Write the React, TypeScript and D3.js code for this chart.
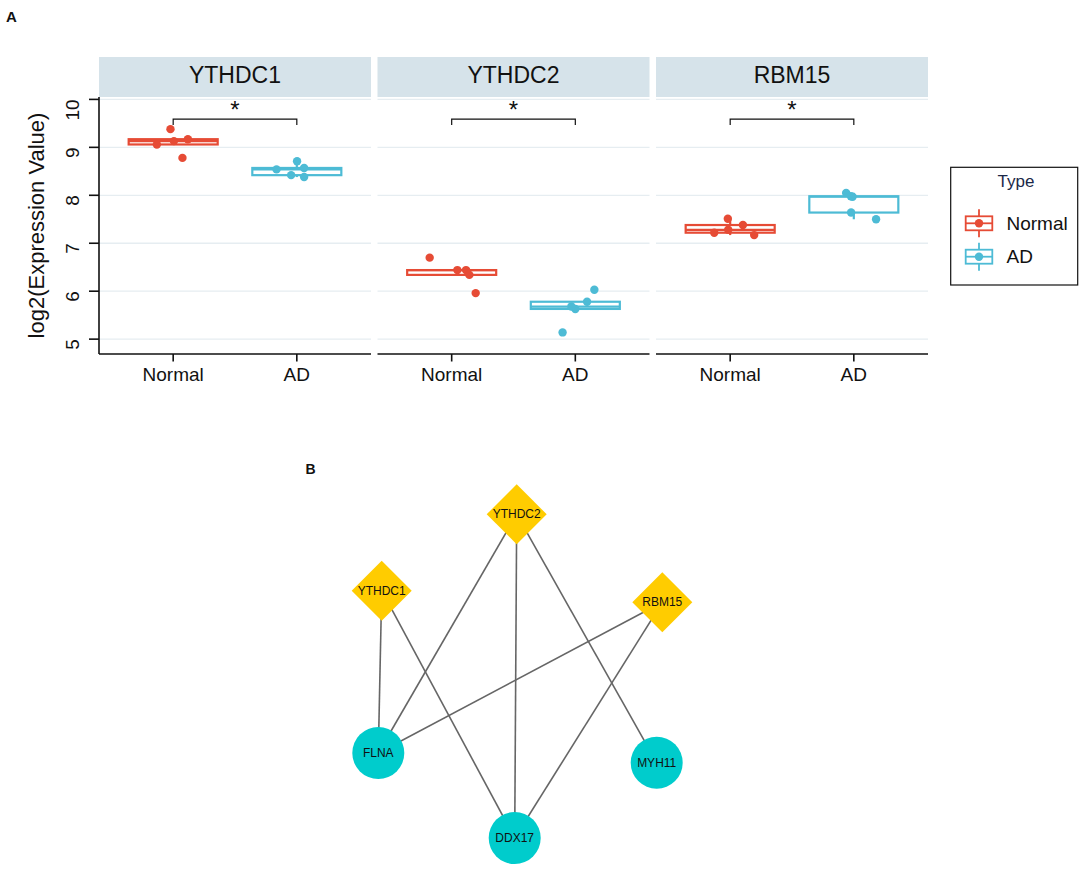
import React from "react";
import * as d3 from "d3";

// ---------- Panel A data ----------
const facets = ["YTHDC1", "YTHDC2", "RBM15"];
const groups = ["Normal", "AD"];
const groupColors = ["#E64B35", "#4DBBD5"];
const yTicks = [5, 6, 7, 8, 9, 10];

const ythdc1Normal = [9.38, 9.06, 9.13, 9.17, 8.78];
const ythdc1NormalJitter = [-0.022, -0.132, 0.006, 0.119, 0.075];
const ythdc1AD = [8.54, 8.71, 8.57, 8.42, 8.38];
const ythdc1ADJitter = [-0.164, 0.002, 0.059, -0.046, 0.059];

const ythdc2Normal = [6.7, 6.44, 6.44, 6.34, 5.96];
const ythdc2NormalJitter = [-0.178, 0.046, 0.116, 0.143, 0.194];
const ythdc2AD = [6.03, 5.78, 5.63, 5.68, 5.14];
const ythdc2ADJitter = [0.154, 0.095, 0.0, -0.032, -0.103];

const rbm15Normal = [7.51, 7.38, 7.22, 7.17, 7.28];
const rbm15NormalJitter = [-0.019, 0.103, -0.129, 0.194, -0.016];
const rbm15AD = [8.05, 7.98, 7.64, 7.5, 7.97];
const rbm15ADJitter = [-0.062, -0.024, -0.022, 0.18, -0.01];

const seriesValues = [
  [ythdc1Normal, ythdc1AD],
  [ythdc2Normal, ythdc2AD],
  [rbm15Normal, rbm15AD],
];
const seriesJitter = [
  [ythdc1NormalJitter, ythdc1ADJitter],
  [ythdc2NormalJitter, ythdc2ADJitter],
  [rbm15NormalJitter, rbm15ADJitter],
];
const sigLabels = ["*", "*", "*"];
const bracketY = 9.59;
const bracketTip = 0.125;

// ---------- Panel B data ----------
const netNodes = [
  { id: "YTHDC2", kind: "m6A", x: 138.4, y: 0 },
  { id: "YTHDC1", kind: "m6A", x: 3.4, y: 76.4 },
  { id: "RBM15", kind: "m6A", x: 284, y: 88 },
  { id: "FLNA", kind: "target", x: 0, y: 238.7 },
  { id: "DDX17", kind: "target", x: 136.4, y: 323.7 },
  { id: "MYH11", kind: "target", x: 278.4, y: 248.4 },
];
const netEdges = [
  ["YTHDC1", "FLNA"],
  ["YTHDC1", "DDX17"],
  ["YTHDC2", "FLNA"],
  ["YTHDC2", "DDX17"],
  ["YTHDC2", "MYH11"],
  ["RBM15", "FLNA"],
  ["RBM15", "DDX17"],
];

const FONT = "'Liberation Sans', Arial, Helvetica, sans-serif";

function boxStats(vals: number[]) {
  const s = [...vals].sort(d3.ascending);
  const q1 = d3.quantile(s, 0.25)!;
  const med = d3.quantile(s, 0.5)!;
  const q3 = d3.quantile(s, 0.75)!;
  const iqr = q3 - q1;
  const lo = d3.min(s.filter((v) => v >= q1 - 1.5 * iqr))!;
  const hi = d3.max(s.filter((v) => v <= q3 + 1.5 * iqr))!;
  return { q1, med, q3, lo, hi };
}

export default function App() {
  const W = 1084;
  const H = 869;

  // Panel A layout
  const plotLeft = 99;
  const plotRight = 928;
  const gap = 6.5;
  const facetW = (plotRight - plotLeft - gap * 2) / 3;
  const stripTop = 57;
  const stripBottom = 97;
  const panelTop = 97;
  const panelBottom = 354;
  const boxStroke = 2.2;

  const y = d3.scaleLinear().domain([4.69, 10.05]).range([panelBottom, panelTop]);
  const facetX = d3
    .scaleBand<string>()
    .domain(facets)
    .range([plotLeft, plotRight])
    .paddingInner(gap / (facetW + gap))
    .paddingOuter(0);
  const xIn = d3.scaleLinear().domain([0.4, 2.6]).range([0, facetX.bandwidth()]);
  const boxWidth = 0.72;

  // Panel B layout
  const nx = d3.scaleLinear().domain([0, 284]).range([378.3, 662.3]);
  const ny = d3.scaleLinear().domain([0, 323.7]).range([514.3, 838]);
  const nodeById = new Map(netNodes.map((n) => [n.id, n]));
  const diamondHalf = 30;
  const circleR = 26;

  return (
    <svg
      width={W}
      height={H}
      viewBox={`0 0 ${W} ${H}`}
      style={{ position: "absolute", left: 0, top: 0, background: "#fff" }}
      fontFamily={FONT}
    >
      <rect x={0} y={0} width={W} height={H} fill="#fff" />
      <text x={6} y={22} fontSize={15} fontWeight="bold" fill="#111">
        A
      </text>

      {/* Y-axis title */}
      <text
        transform={`translate(44,${(panelTop + panelBottom) / 2}) rotate(-90)`}
        textAnchor="middle"
        fontSize={22}
        fill="#111"
      >
        log2(Expression Value)
      </text>

      {facets.map((f, fi) => {
        const x0 = facetX(f)!;
        const fw = facetX.bandwidth();
        const gx = (g: number) => x0 + xIn(g + 1);
        return (
          <g key={f}>
            {/* strip */}
            <rect x={x0} y={stripTop} width={fw} height={stripBottom - stripTop} fill="#d6e3ea" />
            <text x={x0 + fw / 2} y={82.5} textAnchor="middle" fontSize={23} fill="#111">
              {f}
            </text>
            {/* grid */}
            {yTicks.map((t) => (
              <line key={t} x1={x0} x2={x0 + fw} y1={y(t)} y2={y(t)} stroke="#e6edf1" strokeWidth={1.3} />
            ))}
            {/* boxes */}
            {groups.map((g, gi) => {
              const st = boxStats(seriesValues[fi][gi]);
              const cx = gx(gi);
              const half = (xIn(1 + boxWidth / 2) - xIn(1 - boxWidth / 2)) / 2;
              const col = groupColors[gi];
              return (
                <g key={g}>
                  <line x1={cx} x2={cx} y1={y(st.q3)} y2={y(st.hi)} stroke={col} strokeWidth={boxStroke} />
                  <line x1={cx} x2={cx} y1={y(st.q1)} y2={y(st.lo)} stroke={col} strokeWidth={boxStroke} />
                  <rect
                    x={cx - half}
                    y={y(st.q3)}
                    width={half * 2}
                    height={Math.max(0.1, y(st.q1) - y(st.q3))}
                    fill="#fff"
                    stroke={col}
                    strokeWidth={boxStroke}
                  />
                  <line x1={cx - half} x2={cx + half} y1={y(st.med)} y2={y(st.med)} stroke={col} strokeWidth={boxStroke} />
                </g>
              );
            })}
            {/* jittered points */}
            {groups.map((g, gi) =>
              seriesValues[fi][gi].map((v, i) => (
                <circle
                  key={`${g}-${i}`}
                  cx={x0 + xIn(gi + 1 + seriesJitter[fi][gi][i])}
                  cy={y(v)}
                  r={4.2}
                  fill={groupColors[gi]}
                />
              ))
            )}
            {/* significance bracket */}
            <path
              d={`M${gx(0)},${y(bracketY - bracketTip)}V${y(bracketY)}H${gx(1)}V${y(bracketY - bracketTip)}`}
              fill="none"
              stroke="#111"
              strokeWidth={1.2}
            />
            <text x={(gx(0) + gx(1)) / 2} y={y(bracketY) - 1} textAnchor="middle" fontSize={24} fill="#111">
              {sigLabels[fi]}
            </text>
            {/* x axis */}
            <line x1={x0} x2={x0 + fw} y1={panelBottom} y2={panelBottom} stroke="#111" strokeWidth={1.6} />
            {groups.map((g, gi) => (
              <g key={g}>
                <line x1={gx(gi)} x2={gx(gi)} y1={panelBottom} y2={panelBottom + 7.5} stroke="#111" strokeWidth={1.6} />
                <text x={gx(gi)} y={381} textAnchor="middle" fontSize={19} fill="#111">
                  {g}
                </text>
              </g>
            ))}
          </g>
        );
      })}

      {/* y axis on first facet */}
      <line x1={plotLeft} x2={plotLeft} y1={panelTop} y2={panelBottom} stroke="#111" strokeWidth={1.6} />
      {yTicks.map((t) => (
        <g key={t}>
          <line x1={plotLeft - 10} x2={plotLeft} y1={y(t)} y2={y(t)} stroke="#111" strokeWidth={1.6} />
          <text
            transform={`translate(78.5,${y(t)}) rotate(-90)`}
            textAnchor="end"
            fontSize={19}
            fill="#111"
          >
            {t}
          </text>
        </g>
      ))}

      {/* legend */}
      <g>
        <rect x={950.7} y={167.3} width={127} height={117.7} fill="#fff" stroke="#111" strokeWidth={1.2} />
        <text x={1016} y={187} textAnchor="middle" fontSize={17} fill="#1b2848">
          Type
        </text>
        {groups.map((g, gi) => {
          const cy = 223.3 + gi * 33.4;
          const col = groupColors[gi];
          return (
            <g key={g}>
              <line x1={979} x2={979} y1={cy - 14} y2={cy + 14} stroke={col} strokeWidth={1.8} />
              <rect x={965.7} y={cy - 7} width={26.6} height={14} fill="#fff" stroke={col} strokeWidth={1.8} />
              <line x1={965.7} x2={992.3} y1={cy} y2={cy} stroke={col} strokeWidth={1.8} />
              <circle cx={979} cy={cy} r={4.2} fill={col} />
              <text x={1006.5} y={cy + 6.7} fontSize={19} fill="#111">
                {g}
              </text>
            </g>
          );
        })}
      </g>

      {/* Panel B */}
      <text x={305.5} y={474} fontSize={14} fontWeight="bold" fill="#111">
        B
      </text>
      {netEdges.map(([a, b], i) => {
        const na = nodeById.get(a)!;
        const nb = nodeById.get(b)!;
        return (
          <line key={i} x1={nx(na.x)} y1={ny(na.y)} x2={nx(nb.x)} y2={ny(nb.y)} stroke="#666" strokeWidth={1.6} />
        );
      })}
      {netNodes.map((n) => {
        const cx = nx(n.x);
        const cy = ny(n.y);
        return (
          <g key={n.id}>
            {n.kind === "m6A" ? (
              <path
                d={`M${cx},${cy - diamondHalf}L${cx + diamondHalf},${cy}L${cx},${cy + diamondHalf}L${cx - diamondHalf},${cy}Z`}
                fill="#FFCC00"
              />
            ) : (
              <circle cx={cx} cy={cy} r={circleR} fill="#00CCCC" />
            )}
            <text x={cx} y={cy} textAnchor="middle" dominantBaseline="central" fontSize={12} fill="#111">
              {n.id}
            </text>
          </g>
        );
      })}
    </svg>
  );
}
